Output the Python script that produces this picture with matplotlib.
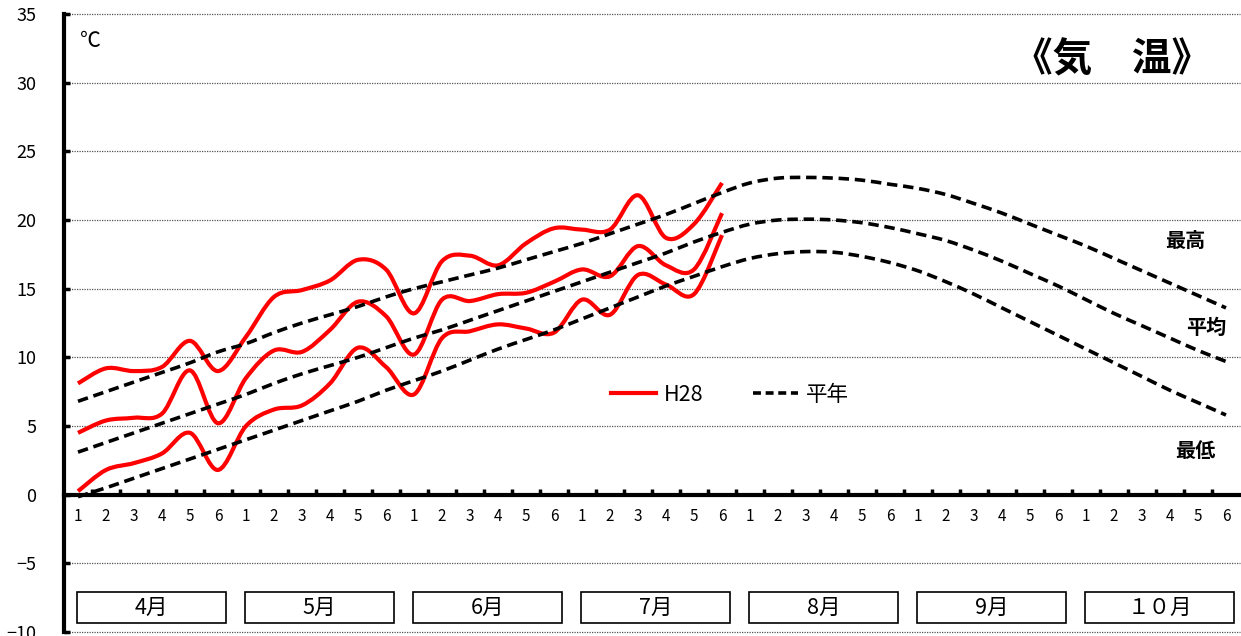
import numpy as np
import matplotlib
matplotlib.use('Agg')
import matplotlib.pyplot as plt
from matplotlib.path import Path
from matplotlib.patches import PathPatch, Rectangle
from matplotlib.lines import Line2D

plt.rcParams['font.family'] = ['Noto Sans CJK JP', 'DejaVu Sans']

# ---------------- data ----------------
months = ['4月', '5月', '6月', '7月', '8月', '9月', '１０月']
pentads = ['1', '2', '3', '4', '5', '6']

h28_max = [8.1, 9.2, 9.0, 9.3, 11.2, 9.0, 11.5, 14.4, 14.9, 15.6, 17.1, 16.4,
           13.2, 17.0, 17.4, 16.7, 18.3, 19.4, 19.3, 19.3, 21.8, 18.7, 19.7, 22.7]
h28_mean = [4.5, 5.4, 5.6, 5.9, 9.05, 5.2, 8.5, 10.5, 10.4, 12.0, 14.05, 13.0,
            10.2, 14.2, 14.1, 14.6, 14.7, 15.5, 16.4, 15.9, 18.1, 16.7, 16.4, 20.5]
h28_min = [0.25, 1.8, 2.3, 3.0, 4.5, 1.8, 5.0, 6.2, 6.5, 8.1, 10.7, 9.3,
           7.3, 11.4, 11.9, 12.4, 12.1, 11.8, 14.2, 13.1, 16.0, 15.3, 14.6, 18.9]

normal_max = [6.8, 7.5, 8.2, 8.9, 9.6, 10.4, 11.0, 11.8, 12.5, 13.1, 13.7, 14.4,
              15.0, 15.5, 16.0, 16.5, 17.1, 17.7, 18.3, 19.0, 19.7, 20.4, 21.2, 22.0,
              22.7, 23.05, 23.1, 23.05, 22.9, 22.6, 22.3, 21.85, 21.2, 20.5, 19.7, 18.9,
              18.1, 17.2, 16.3, 15.4, 14.5, 13.6]
normal_mean = [3.1, 3.8, 4.5, 5.2, 5.9, 6.6, 7.3, 8.1, 8.8, 9.4, 10.0, 10.7,
               11.4, 12.0, 12.7, 13.4, 14.1, 14.8, 15.5, 16.2, 16.9, 17.6, 18.4, 19.1,
               19.7, 20.0, 20.06, 20.0, 19.8, 19.45, 19.0, 18.5, 17.8, 17.0, 16.1, 15.2,
               14.2, 13.2, 12.3, 11.4, 10.5, 9.7]
normal_min = [-0.15, 0.5, 1.2, 1.9, 2.6, 3.3, 4.0, 4.7, 5.4, 6.1, 6.8, 7.6,
              8.3, 9.0, 9.8, 10.6, 11.3, 12.0, 12.8, 13.6, 14.4, 15.2, 15.9, 16.6,
              17.2, 17.55, 17.7, 17.65, 17.35, 16.9, 16.3, 15.5, 14.6, 13.6, 12.6, 11.6,
              10.6, 9.6, 8.6, 7.6, 6.7, 5.8]

series_labels = ['最高', '平均', '最低']
legend_labels = ['H28', '平年']
title_text = '《気　温》'
unit_text = '℃'

# ---------------- figure ----------------
fig = plt.figure(figsize=(12.41, 6.36), dpi=100)
ax = fig.add_axes([64 / 1241, 4 / 636, 1176 / 1241, 618 / 636])

n_cat = len(months) * len(pentads)
ax.set_xlim(-0.5, n_cat - 0.5)
ax.set_ylim(-10, 35)


def smooth_path(ys):
    xs = np.arange(len(ys), dtype=float)
    pts = np.column_stack([xs, np.asarray(ys, dtype=float)])
    n = len(pts)
    verts = [pts[0]]
    codes = [Path.MOVETO]
    for i in range(n - 1):
        p0 = pts[i - 1] if i > 0 else pts[i]
        p1 = pts[i]
        p2 = pts[i + 1]
        p3 = pts[i + 2] if i + 2 < n else pts[i + 1]
        c1 = p1 + (p2 - p0) / 6.0
        c2 = p2 - (p3 - p1) / 6.0
        verts += [c1, c2, p2]
        codes += [Path.CURVE4] * 3
    return Path(verts, codes)


# grid lines
for v in range(-10, 36, 5):
    if v == 0:
        continue
    ax.axhline(v, color='#555555', lw=0.9, ls=(0, (1, 1)), zorder=1, clip_on=False)

red = '#ff0000'
dash = (0, (2.9, 1.6))
for s in (h28_max, h28_mean, h28_min):
    ax.add_patch(PathPatch(smooth_path(s), fill=False, edgecolor=red, lw=3.0,
                           zorder=3, capstyle='butt', joinstyle='round'))
for s in (normal_max, normal_mean, normal_min):
    ax.add_patch(PathPatch(smooth_path(s), fill=False, edgecolor='black', lw=2.6,
                           ls=dash, zorder=4, capstyle='butt'))

# spines
for side in ('top', 'right'):
    ax.spines[side].set_visible(False)
ax.spines['left'].set_linewidth(3)
ax.spines['bottom'].set_linewidth(3)
ax.spines['bottom'].set_position(('data', 0))
ax.spines['bottom'].set_zorder(5)

ax.set_yticks(range(-10, 36, 5))
ax.tick_params(axis='y', direction='in', length=4, width=2.5, labelsize=13, pad=20)
ax.set_xticks(np.arange(0.5, n_cat - 0.5, 1.0))
ax.set_xticklabels([])
ax.tick_params(axis='x', direction='in', length=4, width=2.5)

# pentad labels
for i in range(n_cat):
    ax.text(i, -1.6, pentads[i % len(pentads)], ha='center', va='center',
            fontsize=11)

# month boxes
for m, name in enumerate(months):
    x0 = m * len(pentads) - 0.02
    ax.add_patch(Rectangle((x0, -9.33), 5.3, 2.22, facecolor='white',
                           edgecolor='black', lw=1.2, zorder=2, clip_on=False))
    ax.text(x0 + 2.65, -8.22, name, ha='center', va='center', fontsize=15.5, zorder=3)

# annotations
ax.text(0.45, 33.0, unit_text, ha='center', va='center', fontsize=15)
ax.text(36.93, 31.66, title_text, ha='center', va='center', fontsize=28.5,
        fontweight='bold')
ax.text(39.54, 18.5, series_labels[0], ha='center', va='center', fontsize=14.5,
        fontweight='bold')
ax.text(40.3, 12.15, series_labels[1], ha='center', va='center', fontsize=14.5,
        fontweight='bold')
ax.text(39.9, 3.2, series_labels[2], ha='center', va='center', fontsize=14.5,
        fontweight='bold')

handles = [Line2D([], [], color=red, lw=3.0),
           Line2D([], [], color='black', lw=2.6, ls=(0, (2.2, 1.3)))]
ax.legend(handles, legend_labels, loc='center', bbox_to_anchor=(0.566, 0.3835),
          ncol=2, frameon=False, fontsize=15.5, handlelength=2.1,
          handletextpad=0.35, columnspacing=2.3)

fig.savefig('out.png', dpi=100)
